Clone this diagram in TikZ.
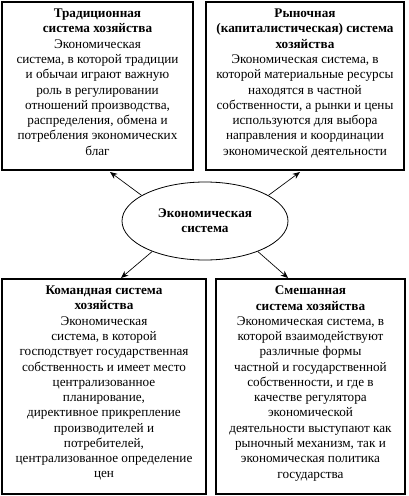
\documentclass[tikz,border=0pt]{standalone}
\usepackage{fontspec}
\setmainfont{Liberation Serif}
\usetikzlibrary{shapes.geometric,fit,arrows.meta}
\begin{document}
\begin{tikzpicture}[x=0.75pt,y=-0.75pt,
  box/.style={draw,line width=0.8pt,inner sep=0pt},
  txt/.style={align=center,inner sep=0pt,font=\fontsize{9.9}{11.45}\selectfont},
  ell/.style={draw,ellipse,line width=0.6pt,minimum width=124.5pt,minimum height=58.5pt,inner sep=0pt,align=center,font=\fontsize{9.9}{11.45}\selectfont\bfseries},
  arr/.style={-{Stealth[length=5.5pt,width=4.5pt]},line width=0.5pt}]
\useasboundingbox (0,0) rectangle (408,496);
\node[box,fit={(2,2)(193,170)}] (tl) {};
\node[box,fit={(206,2)(404,170)}] (tr) {};
\node[box,fit={(2,279)(206,494)}] (bl) {};
\node[box,fit={(216,279)(405,494)}] (br) {};
\node[ell] (e) at (205,221) {Экономическая\\система};
\node[txt,anchor=north] (tlt) at ([yshift=-5.5pt]tl.north) {\textbf{Традиционная}\\\textbf{система хозяйства}\\Экономическая\\система, в которой традиции\\и обычаи играют важную\\роль в регулировании\\отношений производства,\\распределения, обмена и\\потребления экономических\\благ};
\node[txt,anchor=north] (trt) at ([yshift=-5.5pt]tr.north) {\textbf{Рыночная}\\\textbf{(капиталистическая) система}\\\textbf{хозяйства}\\Экономическая система, в\\которой материальные ресурсы\\находятся в частной\\собственности, а рынки и цены\\используются для выбора\\направления и координации\\экономической деятельности};
\node[txt,anchor=north] (blt) at ([yshift=-5.5pt]bl.north) {\textbf{Командная система}\\\textbf{хозяйства}\\Экономическая\\система, в которой\\господствует государственная\\собственность и имеет место\\централизованное\\планирование,\\директивное прикрепление\\производителей и\\потребителей,\\централизованное определение\\цен};
\node[txt,anchor=north] (brt) at ([yshift=-5.5pt]br.north) {\textbf{Смешанная}\\\textbf{система хозяйства}\\Экономическая система, в\\которой взаимодействуют\\различные формы\\частной и государственной\\собственности, и где в\\качестве регулятора\\экономической\\деятельности выступают как\\рыночный механизм, так и\\экономическая политика\\государства};
\coordinate (a1) at (110,172);
\coordinate (a2) at (300,172);
\coordinate (a3) at (121,278);
\coordinate (a4) at (288,278);
\draw[arr] (e.158) -- (a1);
\draw[arr] (e.22) -- (a2);
\draw[arr] (e.-150) -- (a3);
\draw[arr] (e.-30) -- (a4);
\end{tikzpicture}
\end{document}
